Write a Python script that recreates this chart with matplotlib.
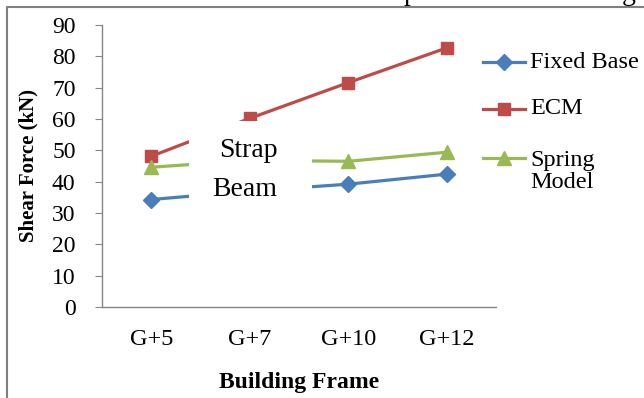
import matplotlib
matplotlib.use("Agg")
import matplotlib.pyplot as plt
from matplotlib.lines import Line2D
from matplotlib.patches import Rectangle

plt.rcParams["font.family"] = ["Liberation Serif", "DejaVu Serif"]

frames = ["G+5", "G+7", "G+10", "G+12"]
fixed_base = [34.3, 37.0, 39.2, 42.4]
ecm = [48.1, 60.2, 71.6, 82.7]
spring = [44.6, 46.8, 46.5, 49.4]
yticks = [0, 10, 20, 30, 40, 50, 60, 70, 80, 90]

series = [
    ("Fixed Base", fixed_base, "#4a7ebb", "D", 8),
    ("ECM", ecm, "#be4b48", "s", 9),
    ("Spring\nModel", spring, "#98b954", "^", 10),
]

W, H = 644, 398
fig = plt.figure(figsize=(W / 100, H / 100), dpi=100)

def fx(px):
    return px / W

def fy(py):
    return 1 - py / H

ax = fig.add_axes([fx(102), fy(307), fx(496) - fx(102), fy(25) - fy(307)])

xs = list(range(len(frames)))
for label, vals, color, marker, ms in series:
    ax.plot(xs, vals, color=color, marker=marker, markersize=ms, linewidth=2.3,
            clip_on=False)

ax.set_xlim(-0.5, len(frames) - 0.5)
ax.set_ylim(0, 90)
ax.set_yticks(yticks)
ax.set_xticks(xs)
ax.set_xticklabels(frames)
for s in ["top", "right"]:
    ax.spines[s].set_visible(False)
for s in ["left", "bottom"]:
    ax.spines[s].set_color("#868686")
    ax.spines[s].set_linewidth(1.0)
ax.tick_params(axis="y", direction="out", length=5, color="#868686", pad=14, labelsize=17)
ax.tick_params(axis="x", length=0, pad=16, labelsize=17.5)
ax.set_ylabel("Shear Force (kN)", fontsize=15, fontweight="bold")
ax.yaxis.set_label_coords((38 - 102) / 394, 0.5)
ax.set_xlabel("Building Frame", fontsize=17, fontweight="bold")
ax.xaxis.set_label_coords(0.5, -(372 - 307) / 282)
ax.xaxis.label.set_va("top")

# white box with overlaid label
fig.add_artist(Rectangle((fx(189), fy(205)), fx(312) - fx(189), fy(121) - fy(205),
                         transform=fig.transFigure, facecolor="white",
                         edgecolor="none", zorder=5))
fig.text(fx(248), fy(151), "Strap", fontsize=20, ha="center", va="center", zorder=6)
fig.text(fx(245), fy(189), "Beam", fontsize=20, ha="center", va="center", zorder=6)

# legend
leg_y = [62, 109, 158]
for (label, vals, color, marker, ms), y in zip(series, leg_y):
    fig.add_artist(Line2D([fx(483), fx(504), fx(525)], [fy(y)] * 3,
                          transform=fig.transFigure, color=color, linewidth=2.3,
                          marker=marker, markersize=ms, markevery=[1]))
    ty = y + 13.5 if "\n" in label else y
    fig.text(fx(530), fy(ty), label, fontsize=17.5, ha="left", va="center",
             linespacing=1.1)

# outer frame and clipped caption text above
fig.add_artist(Line2D([fx(7), fx(7), fx(644)], [fy(398), fy(7), fy(7)],
                      transform=fig.transFigure, color="#7f7f7f", linewidth=1.5))
fig.text(fx(404), 1.0, "p", fontsize=20, ha="left", va="baseline")
fig.text(fx(622), 1.0, "g", fontsize=20, ha="left", va="baseline")

fig.savefig("out.png", dpi=100)
